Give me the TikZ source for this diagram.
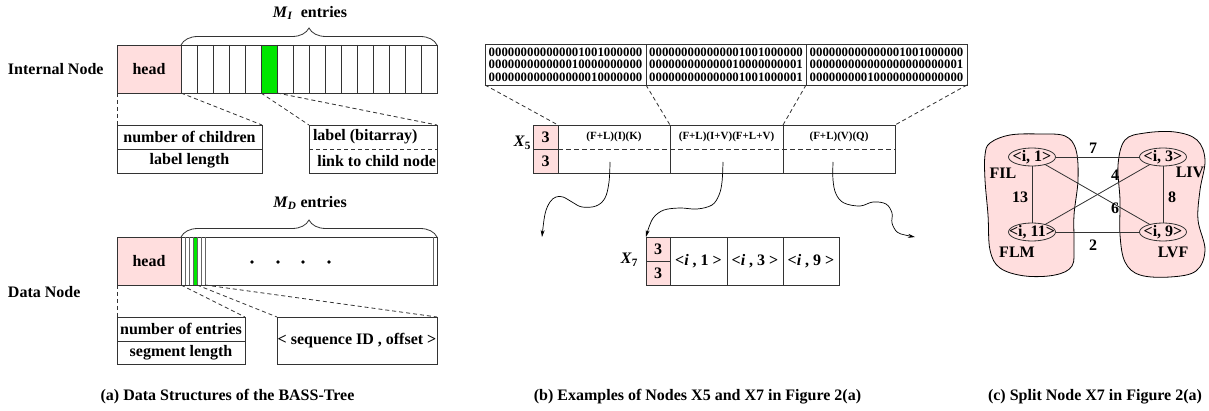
\documentclass[tikz,border=0pt]{standalone}
\usepackage{fontspec}
\setmainfont{Liberation Serif}
\usetikzlibrary{decorations.pathreplacing,arrows.meta,shapes.geometric}
\definecolor{pinkf}{RGB}{255,222,222}
\definecolor{greenf}{RGB}{0,230,0}
\begin{document}
\begin{tikzpicture}[x=1pt,y=-1pt,
  every node/.style={font=\bfseries\fontsize{16}{18}\selectfont, inner sep=0pt, outer sep=0pt},
  bx/.style={draw=black!80, line width=0.8pt},
  headbox/.style={bx, fill=pinkf},
  ln/.style={draw=black!80, line width=0.8pt},
  dashln/.style={draw=black!80, line width=0.8pt, dash pattern=on 4pt off 3pt},
  arr/.style={draw=black, line width=0.7pt, -{Stealth[length=7pt,width=4pt]}},
  smalltxt/.style={font=\bfseries\fontsize{11}{13}\selectfont},
  bits/.style={font=\bfseries\fontsize{12.8}{12.5}\selectfont, align=center},
  bracestyle/.style={ln, decorate, decoration={brace, amplitude=17pt}},
  ell/.style={ellipse, draw=black!80, line width=0.8pt, minimum width=47, minimum height=18},
  blob/.style={draw=black, line width=0.8pt, fill=pinkf}
]
\fill[white] (0,0) rectangle (1209,411);
\useasboundingbox (0,0) rectangle (1209,411);

% ---------------- panel (a): internal node
\node[anchor=west] (inlab) at (8,69) {Internal Node};
\node[headbox, minimum width=64, minimum height=48] (ihead) at (149,69) {head};
\fill[greenf] (261,45) rectangle (277,93);
\node[bx, minimum width=256, minimum height=48] (ient) at (309,69) {};
\foreach \k in {1,...,15} \draw[ln] (181+16*\k,45) -- (181+16*\k,93);
\draw[bracestyle] (ient.north west) -- (ient.north east);
\node (milab) at (310,13) {\textit{M}\textsubscript{\textit{I}}\ \ entries};

\node[bx, minimum width=145, minimum height=24] (inch) at (189.5,137) {number of children};
\node[bx, minimum width=145, minimum height=24] (illen) at (189.5,161) {label length};
\node[bx, minimum width=128, minimum height=48] (irb) at (373,149) {};
\draw[dashln] (irb.west) -- (irb.east);
\node[anchor=west] (ilbl) at (313,137) {label (bitarray)};
\node[anchor=east] (ilink) at (436,161) {link to child node};

\coordinate (ig1) at (261,93);
\coordinate (ig2) at (277,93);
\draw[dashln] (ihead.south west) -- (inch.north west);
\draw[dashln] (ient.south west) -- (inch.north east);
\draw[dashln] (ig1) -- (irb.north west);
\draw[dashln] (ig2) -- (irb.north east);

% ---------------- panel (a): data node
\node[anchor=west] (dnlab) at (8,292) {Data Node};
\node[headbox, minimum width=64, minimum height=48] (dhead) at (149,261) {head};
\fill[greenf] (193,237) rectangle (197,285);
\node[bx, minimum width=256, minimum height=48] (dent) at (309,261) {};
\foreach \xx in {185,189,193,197,201,205,433} \draw[draw=black!60, line width=0.7pt] (\xx,237) -- (\xx,285);
\foreach \xx in {252,278,303,329} \fill (\xx,262) circle (1.8);
\draw[bracestyle] (dent.north west) -- (dent.north east);
\node (mdlab) at (310,203) {\textit{M}\textsubscript{\textit{D}}\ entries};

\node[bx, minimum width=128, minimum height=24] (dne) at (181,329) {number of entries};
\node[bx, minimum width=128, minimum height=23] (dsl) at (181,352.5) {segment length};
\node[bx, minimum width=160, minimum height=47] (dseq) at (357,340.5) {< sequence ID , offset >};
\coordinate (dg1) at (197,285);
\coordinate (dg2) at (205,285);
\draw[dashln] (dhead.south west) -- (dne.north west);
\draw[dashln] (dent.south west) -- (dne.north east);
\draw[dashln] (dg1) -- (dseq.north west);
\draw[dashln] (dg2) -- (dseq.north east);

\node (capa) at (227.5,397) {(a) Data Structures of the BASS-Tree};

% ---------------- panel (b)
\node[bx, bits, minimum width=161, minimum height=41] (b1) at (565.5,64.5) {000000000000001001000000\\000000000000010000000000\\000000000000000010000000};
\node[bx, bits, minimum width=160, minimum height=41] (b2) at (726,64.5) {000000000000001001000000\\000000000000010000000001\\000000000000001001000001};
\node[bx, bits, minimum width=161, minimum height=41] (b3) at (886.5,64.5) {000000000000001001000000\\000000000000000000000001\\000000000100000000000000};

\node[headbox, minimum width=25, minimum height=24] (x5t) at (545.5,137) {3};
\node[headbox, minimum width=25, minimum height=24] (x5b) at (545.5,161) {3};
\node[bx, minimum width=112, minimum height=48] (c51) at (614,149) {};
\node[bx, minimum width=113, minimum height=48] (c52) at (726.5,149) {};
\node[bx, minimum width=112, minimum height=48] (c53) at (839,149) {};
\draw[dashln, dash pattern=on 5pt off 3pt] (c51.west) -- (c53.east);
\node[smalltxt] (t51) at (614,137) {(F+L)(I)(K)};
\node[smalltxt] (t52) at (726.5,137) {(F+L)(I+V)(F+L+V)};
\node[smalltxt] (t53) at (839,137) {(F+L)(V)(Q)};
\node[anchor=east] (x5lab) at (531,143) {\textit{X}\textsubscript{5}};

\draw[dashln] (b1.south west) -- (x5t.north east);
\draw[dashln] (b2.south west) -- (c52.north west);
\draw[dashln] (b3.south west) -- (c53.north west);
\draw[dashln] (b3.south east) -- (c53.north east);

\node[headbox, minimum width=24, minimum height=24] (x7t) at (658,249) {3};
\node[headbox, minimum width=24, minimum height=24] (x7b) at (658,273) {3};
\node[bx, minimum width=57, minimum height=48] (c71) at (698.5,261) {<\textit{i} , 1 >};
\node[bx, minimum width=56, minimum height=48] (c72) at (755,261) {<\textit{i} , 3 >};
\node[bx, minimum width=56, minimum height=48] (c73) at (811,261) {<\textit{i} , 9 >};
\node[anchor=east] (x7lab) at (638,260) {\textit{X}\textsubscript{7}};

\coordinate (s1) at (610,162);
\coordinate (s2) at (723,162);
\coordinate (s3) at (833,162);
\coordinate (e1) at (542,237);
\coordinate (e3) at (915,237);
\draw[arr] plot[smooth, tension=0.6] coordinates {(s1) (609,182) (605,198) (596,206) (582,207) (572,202) (563,197) (556,197) (550,202) (545,214) (e1)};
\draw[arr] plot[smooth, tension=0.6] coordinates {(s2) (722,182) (719,195) (712,205) (697,209) (680,208) (664,210) (654,217) (649,227) (x7t.north west)};
\draw[arr] plot[smooth, tension=0.6] coordinates {(s3) (833,180) (836,194) (844,203) (860,206) (873,202) (886,204) (892,213) (892,223) (897,232) (905,235) (e3)};

\node (capb) at (697.5,397) {(b) Examples of Nodes X5 and X7 in Figure 2(a)};

% ---------------- panel (c)
\draw[blob] plot[smooth cycle, tension=0.6] coordinates {(990,143) (1010,135) (1040,134) (1065,136) (1076,150) (1078,180) (1074,215) (1074,245) (1072,266) (1055,275) (1025,276) (1000,268) (990,250) (988,215) (985,180) (985,155)};
\draw[blob] plot[smooth cycle, tension=0.6] coordinates {(1125,140) (1145,133) (1175,132) (1197,140) (1205,160) (1200,190) (1198,220) (1205,250) (1196,271) (1170,277) (1140,275) (1125,262) (1120,235) (1120,200) (1118,165)};

\node[ell] (n1) at (1032,157) {};
\node[ell] (n3) at (1163,157) {};
\node[ell] (n11) at (1032,232) {};
\node[ell] (n9) at (1163,232) {};
\node (l1) at (n1) {<i, 1>};
\node (l3) at (n3) {<i, 3>};
\node (l11) at (n11) {<i, 11>};
\node (l9) at (n9) {<i, 9>};

\draw[ln] (n1.east) -- (n3.west);
\draw[ln] (n11.east) -- (n9.west);
\draw[ln] (n1.south) -- (n11.north);
\draw[ln] (n3.south) -- (n9.north);
\draw[ln] (n1) -- (n9);
\draw[ln] (n11) -- (n3);

\node (w7) at (1093,148) {7};
\node (w2) at (1093,245) {2};
\node (w13) at (1020,197) {13};
\node (w8) at (1172,197) {8};
\node (w6) at (1115,208) {6};
\node (w4) at (1115,175) {4};
\node (fil) at (1003,173) {FIL};
\node (liv) at (1190,172) {LIV};
\node (flm) at (1017,252) {FLM};
\node (lvf) at (1173,252) {LVF};

\node (capc) at (1095,397) {(c) Split Node X7 in Figure 2(a)};
\end{tikzpicture}
\end{document}
